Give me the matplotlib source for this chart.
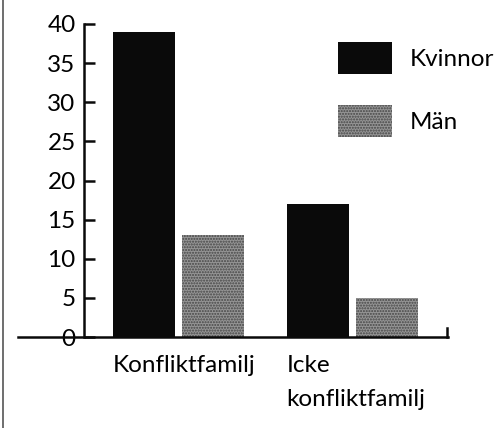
import matplotlib
matplotlib.use("Agg")
import matplotlib.pyplot as plt
import numpy as np
from matplotlib.lines import Line2D

plt.rcParams['font.family'] = ['Lato', 'DejaVu Sans']

# data
categories = ['Konfliktfamilj', 'Icke\nkonfliktfamilj']
series = ['Kvinnor', 'Män']
kvinnor = [39, 17]
man = [13, 5]
yticks = [0, 5, 10, 15, 20, 25, 30, 35, 40]

W, H = 502, 428
fig = plt.figure(figsize=(W / 100, H / 100), dpi=100)
ax = fig.add_axes([84 / W, 1 - 337 / H, (448 - 84) / W, (337 - 24) / H])

x = np.arange(len(categories))
width = 0.357
off = 0.2
ax.bar(x - off, kvinnor, width, color='#0a0a0a', linewidth=0, label=series[0])
ax.bar(x + off, man, width, color='#959595', hatch='......', edgecolor='#454545',
       linewidth=0, label=series[1])

ax.set_xlim(-0.545, 1.55)
ax.set_ylim(0, 40)

for s in ['top', 'right', 'bottom']:
    ax.spines[s].set_visible(False)
ax.spines['left'].set_linewidth(1.8)
ax.spines['left'].set_color('#0a0a0a')

ax.set_yticks(yticks)
ax.tick_params(axis='y', direction='in', length=8, width=1.8, color='#0a0a0a',
               labelsize=17.5, pad=6)
ax.set_xticks(x - off - width / 2)
ax.set_xticklabels(categories, ha='left', va='top', fontsize=17.5, linespacing=1.75)
ax.tick_params(axis='x', length=0, pad=13)

# long baseline extending left of the y-axis, with a small end tick on the right
ax.add_line(Line2D([-0.181, 1.0], [0, 0], transform=ax.transAxes, color='#0a0a0a',
                   lw=1.8, clip_on=False))
ax.add_line(Line2D([0.997, 0.997], [0, 0.03], transform=ax.transAxes, color='#0a0a0a',
                   lw=1.8, clip_on=False))

# scanned page edge on the left
fig.add_artist(Line2D([3 / W, 3 / W], [0, 1], transform=fig.transFigure, color='#555555', lw=1.2))

ax.legend(loc='upper left', bbox_to_anchor=(338 / W, 1 - 42 / H),
          bbox_transform=fig.transFigure, frameon=False, fontsize=17.5,
          handlelength=2.22, handleheight=1.65, labelspacing=1.28,
          handletextpad=0.75, borderpad=0, borderaxespad=0)

fig.savefig('out.png', dpi=100)
